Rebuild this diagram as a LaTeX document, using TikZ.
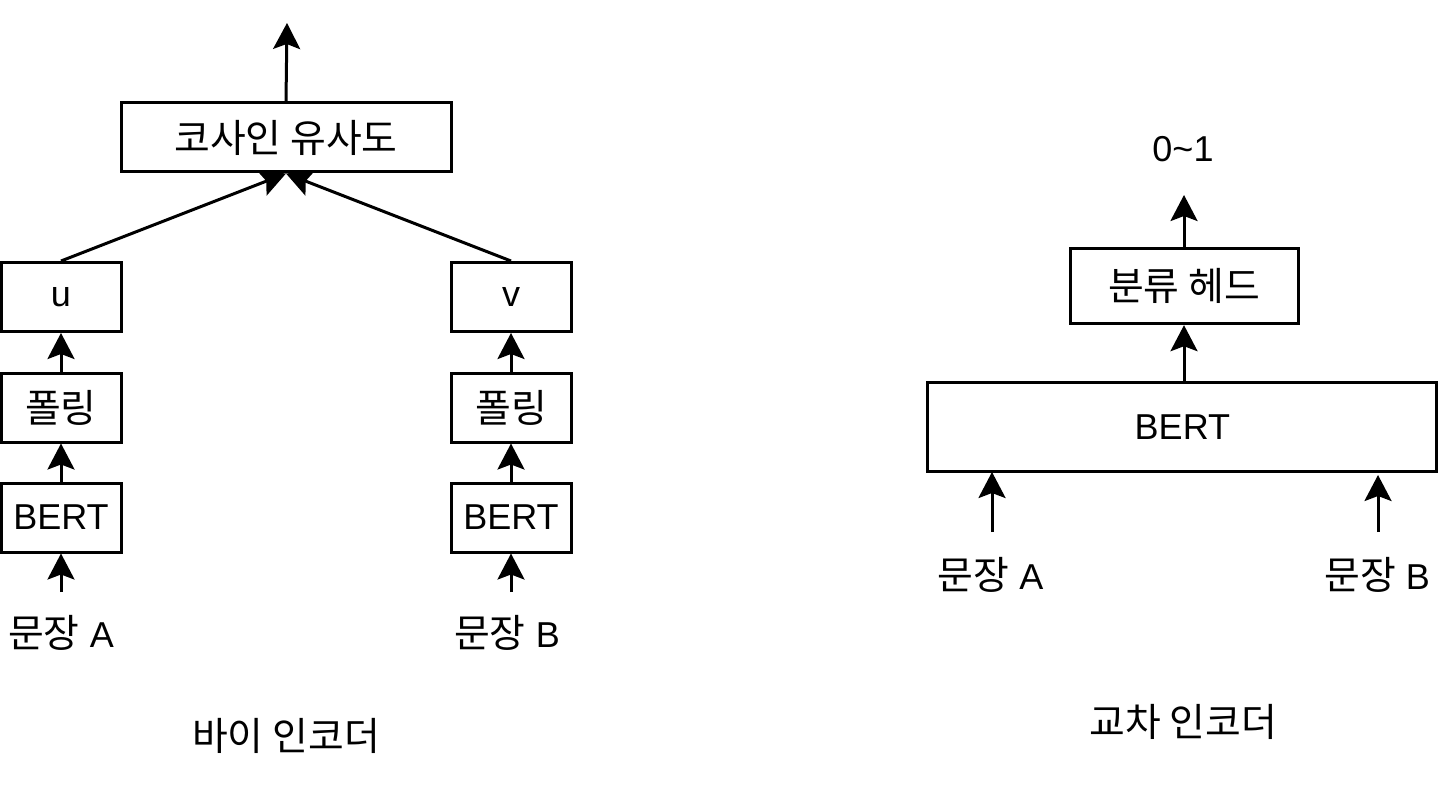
\documentclass[tikz,border=0pt]{standalone}
\usepackage{fontspec}
\setmainfont{Liberation Sans}
\newfontfamily\kr[Scale=1.08]{Noto Sans CJK KR}
\usetikzlibrary{arrows.meta}
\begin{document}
\begin{tikzpicture}[x=1pt,y=-1pt,
  every node/.style={font=\fontsize{36}{43}\selectfont, inner sep=0pt},
  blk/.style={draw, line width=3pt, minimum width=120pt, minimum height=69pt},
  lbl/.style={},
  arr/.style={line width=3pt, -{Stealth[length=26pt,width=27pt,inset=5pt]}}]
\useasboundingbox (0,0) rectangle (1440,786);
% Bi-encoder
\node[blk, minimum width=330pt] (cos) at (286,137.5) {\kr 코사인 유사도};
\node[blk] (u) at (61,297) {u};
\node[blk] (v) at (511,297) {v};
\node[blk] (pa) at (61,407.5) {\kr 폴링};
\node[blk] (pb) at (511,407.5) {\kr 폴링};
\node[blk] (ba) at (61,517.5) {BERT};
\node[blk] (bb) at (511,517.5) {BERT};
\node[lbl] (la) at (61,633) {{\kr 문장} A};
\node[lbl] (lb) at (507,633) {{\kr 문장} B};
\node[lbl] (bi) at (286,736) {\kr 바이 인코더};
\coordinate (cosout) at (287,23);
\coordinate (ina) at (61,592);
\coordinate (inb) at (511,592);
\draw[arr] (ina) -- (ba.south);
\draw[arr] (inb) -- (bb.south);
\draw[arr] (ba.north) -- (pa.south);
\draw[arr] (bb.north) -- (pb.south);
\draw[arr] (pa.north) -- (u.south);
\draw[arr] (pb.north) -- (v.south);
\draw[arr] (u.north) -- (cos.south);
\draw[arr] (v.north) -- (cos.south);
\draw[arr] (cos.north) -- (cosout);
% Cross-encoder
\node[blk, minimum width=228pt, minimum height=75pt] (cls) at (1184,286.2) {\kr 분류 헤드};
\node[blk, minimum width=509pt, minimum height=89pt] (bert) at (1182.4,427.3) {BERT};
\node[lbl] (score) at (1183,149) {0\char`~1};
\node[lbl] (ra) at (990.5,575) {{\kr 문장} A};
\node[lbl] (rb) at (1377,575) {{\kr 문장} B};
\node[lbl] (ce) at (1183,722) {\kr 교차 인코더};
\coordinate (clsout) at (1184,195);
\coordinate (ina2) at (992,532);
\coordinate (ta2) at (992,472);
\coordinate (inb2) at (1378,532);
\coordinate (tb2) at (1378,475);
\draw[arr] (ina2) -- (ta2);
\draw[arr] (inb2) -- (tb2);
\draw[arr] (cls.south |- bert.north) -- (cls.south);
\draw[arr] (cls.north) -- (clsout);
\end{tikzpicture}
\end{document}
